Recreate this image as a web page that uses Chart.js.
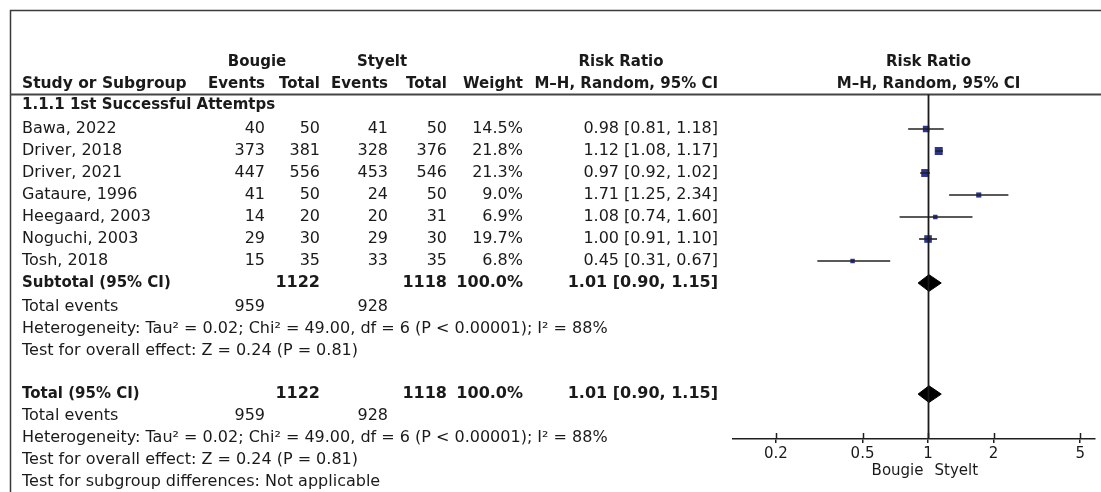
<!DOCTYPE html>
<html>
<head>
<meta charset="utf-8">
<script src="https://cdn.jsdelivr.net/npm/chart.js@4.4.1/dist/chart.umd.min.js"></script>
<style>
  html, body { margin: 0; padding: 0; background: #ffffff; }
  #wrap { position: relative; width: 1101px; height: 492px; }
</style>
</head>
<body>
<div id="wrap"><canvas id="c" width="1101" height="492"></canvas></div>
<script>
// ---------------- data ----------------
const studies = ['Bawa, 2022', 'Driver, 2018', 'Driver, 2021', 'Gataure, 1996', 'Heegaard, 2003', 'Noguchi, 2003', 'Tosh, 2018'];
const bougieEvents = [40, 373, 447, 41, 14, 29, 15];
const bougieTotal = [50, 381, 556, 50, 20, 30, 35];
const styeltEvents = [41, 328, 453, 24, 20, 29, 33];
const styeltTotal = [50, 376, 546, 50, 31, 30, 35];
const weights = [14.5, 21.8, 21.3, 9.0, 6.9, 19.7, 6.8];
const riskRatio = [0.98, 1.12, 0.97, 1.71, 1.08, 1.00, 0.45];
const ciLow = [0.81, 1.08, 0.92, 1.25, 0.74, 0.91, 0.31];
const ciHigh = [1.18, 1.17, 1.02, 2.34, 1.60, 1.10, 0.67];

const pooledLabels = ['Subtotal (95% CI)', 'Total (95% CI)'];
const pooledBougieTotal = [1122, 1122];
const pooledStyeltTotal = [1118, 1118];
const pooledWeight = [100.0, 100.0];
const pooledRR = [1.01, 1.01];
const pooledLow = [0.90, 0.90];
const pooledHigh = [1.15, 1.15];
const totalEventsBougie = [959, 959];
const totalEventsStyelt = [928, 928];

const subgroupTitle = '1.1.1 1st Successful Attemtps';
const heterogeneityText = 'Heterogeneity: Tau\u00B2 = 0.02; Chi\u00B2 = 49.00, df = 6 (P < 0.00001); I\u00B2 = 88%';
const overallEffectText = 'Test for overall effect: Z = 0.24 (P = 0.81)';
const subgroupDiffText = 'Test for subgroup differences: Not applicable';

const tickValues = [0.2, 0.5, 1, 2, 5];
const tickLabels = ['0.2', '0.5', '1', '2', '5'];
const favoursLeft = 'Bougie';
const favoursRight = 'Styelt';

// ---------------- layout (row units) ----------------
const studyRows = studies.map((_, i) => i);
const pooledRows = [7, 12.05];
const totalEventsRows = [8.1, 13.05];
const heteroRows = [9.1, 14.05];
const overallRows = [10.1, 15.05];
const subgroupDiffRow = 16.05;
const subgroupTitleRow = -1.08;
const headerRow1 = -3.05;
const headerRow2 = -2.05;
const headerLineRow = -1.59;

const col = { name: 22, bE: 265, bT: 320, sE: 388, sT: 447, w: 523, rr: 718 };
const SQUARE = '#2b3491';
const INK = '#1a1a1a';
const FONT = "'DejaVu Sans', sans-serif";

const fmt2 = v => v.toFixed(2);
const rrText = (r, l, h) => fmt2(r) + ' [' + fmt2(l) + ', ' + fmt2(h) + ']';

// ---------------- datasets ----------------
const datasets = [];
studies.forEach((s, i) => {
  datasets.push({
    type: 'line',
    data: [{ x: ciLow[i], y: studyRows[i] }, { x: ciHigh[i], y: studyRows[i] }],
    borderColor: '#222', borderWidth: 1.6, pointRadius: 0, fill: false
  });
});
datasets.push({
  type: 'scatter',
  data: riskRatio.map((v, i) => ({ x: v, y: studyRows[i] })),
  pointStyle: 'rect',
  pointRadius: weights.map(w => (8 * Math.sqrt(w / 21.8)) / 1.4142),
  backgroundColor: SQUARE, borderColor: SQUARE, borderWidth: 0
});
pooledRR.forEach((v, i) => {
  const r = pooledRows[i];
  datasets.push({
    type: 'line',
    data: [
      { x: pooledLow[i], y: r }, { x: v, y: r - 0.38 },
      { x: pooledHigh[i], y: r }, { x: v, y: r + 0.38 }, { x: pooledLow[i], y: r }
    ],
    borderColor: '#000', backgroundColor: '#000', borderWidth: 1,
    pointRadius: 0, fill: 'shape', tension: 0
  });
});

// ---------------- text / frame plugin ----------------
const forestPlugin = {
  id: 'forestText',
  afterDraw(chart) {
    const ctx = chart.ctx;
    const ys = chart.scales.y, xs = chart.scales.x;
    const Y = r => ys.getPixelForValue(r);
    ctx.save();
    // frame
    ctx.strokeStyle = '#3a3a3a'; ctx.lineWidth = 1.5;
    ctx.beginPath(); ctx.moveTo(10.5, 492); ctx.lineTo(10.5, 10.5); ctx.lineTo(1101, 10.5); ctx.stroke();
    // header rule
    ctx.strokeStyle = '#444'; ctx.lineWidth = 2;
    const hy = Math.round(Y(headerLineRow)) + 0.5;
    ctx.beginPath(); ctx.moveTo(10, hy); ctx.lineTo(1101, hy); ctx.stroke();
    // line of no effect
    const x1 = Math.round(xs.getPixelForValue(1)) + 0.5;
    ctx.strokeStyle = '#1a1a1a'; ctx.lineWidth = 1.8;
    ctx.beginPath(); ctx.moveTo(x1, hy); ctx.lineTo(x1, xs.top); ctx.stroke();
    // upper part of axis ticks
    ctx.lineWidth = 1.5; ctx.strokeStyle = '#1e1e1e';
    tickValues.forEach(v => {
      const px = Math.round(xs.getPixelForValue(v)) + 0.5;
      ctx.beginPath(); ctx.moveTo(px, xs.top - 6); ctx.lineTo(px, xs.top); ctx.stroke();
    });

    ctx.fillStyle = INK; ctx.textBaseline = 'middle';
    const T = (txt, x, y, align, bold, size) => {
      ctx.font = (bold ? 'bold ' : '') + (size || (bold ? 15 : 16)) + 'px ' + FONT;
      ctx.textAlign = align || 'left';
      ctx.fillText(txt, x, y);
    };
    // headers
    T('Bougie', 257, Y(headerRow1), 'center', true);
    T('Styelt', 382, Y(headerRow1), 'center', true);
    T('Risk Ratio', 621, Y(headerRow1), 'center', true);
    T('Risk Ratio', x1, Y(headerRow1), 'center', true);
    T('Study or Subgroup', col.name, Y(headerRow2), 'left', true, 15.5);
    T('Events', col.bE, Y(headerRow2), 'right', true);
    T('Total', col.bT, Y(headerRow2), 'right', true);
    T('Events', col.sE, Y(headerRow2), 'right', true);
    T('Total', col.sT, Y(headerRow2), 'right', true);
    T('Weight', col.w, Y(headerRow2), 'right', true);
    T('M\u2013H, Random, 95% CI', col.rr, Y(headerRow2), 'right', true);
    T('M\u2013H, Random, 95% CI', x1, Y(headerRow2), 'center', true);
    T(subgroupTitle, col.name, Y(subgroupTitleRow), 'left', true);
    // studies
    studies.forEach((s, i) => {
      const y = Y(studyRows[i]);
      T(s, col.name, y, 'left', false);
      T(String(bougieEvents[i]), col.bE, y, 'right', false);
      T(String(bougieTotal[i]), col.bT, y, 'right', false);
      T(String(styeltEvents[i]), col.sE, y, 'right', false);
      T(String(styeltTotal[i]), col.sT, y, 'right', false);
      T(weights[i].toFixed(1) + '%', col.w, y, 'right', false);
      T(rrText(riskRatio[i], ciLow[i], ciHigh[i]), col.rr, y, 'right', false);
    });
    // pooled blocks
    pooledLabels.forEach((lab, i) => {
      const y = Y(pooledRows[i]);
      T(lab, col.name, y, 'left', true);
      T(String(pooledBougieTotal[i]), col.bT, y, 'right', true, 16);
      T(String(pooledStyeltTotal[i]), col.sT, y, 'right', true, 16);
      T(pooledWeight[i].toFixed(1) + '%', col.w, y, 'right', true, 16);
      T(rrText(pooledRR[i], pooledLow[i], pooledHigh[i]), col.rr, y, 'right', true, 16);
      const ty = Y(totalEventsRows[i]);
      T('Total events', col.name, ty, 'left', false);
      T(String(totalEventsBougie[i]), col.bE, ty, 'right', false);
      T(String(totalEventsStyelt[i]), col.sE, ty, 'right', false);
      T(heterogeneityText, col.name, Y(heteroRows[i]), 'left', false);
      T(overallEffectText, col.name, Y(overallRows[i]), 'left', false);
    });
    T(subgroupDiffText, col.name, Y(subgroupDiffRow), 'left', false);
    // favours labels
    const fy = xs.bottom - 21;
    T(favoursLeft, x1 - 5, fy, 'right', false, 15);
    T(favoursRight, x1 + 6, fy, 'left', false, 15);
    ctx.restore();
  }
};

// ---------------- chart ----------------
new Chart(document.getElementById('c'), {
  type: 'scatter',
  data: { datasets },
  options: {
    responsive: false,
    animation: false,
    devicePixelRatio: 1,
    layout: { padding: { left: 733, right: 6, top: 10, bottom: 0 } },
    plugins: { legend: { display: false }, tooltip: { enabled: false } },
    scales: {
      x: {
        type: 'logarithmic',
        position: 'bottom',
        min: 0.127,
        max: 5.85,
        afterBuildTicks: s => { s.ticks = tickValues.map(v => ({ value: v })); },
        afterFit: s => { s.height = 53; },
        ticks: {
          autoSkip: false, maxRotation: 0, padding: 2,
          color: INK, font: { family: FONT, size: 15 },
          callback: v => { const k = tickValues.indexOf(v); return k >= 0 ? tickLabels[k] : ''; }
        },
        grid: { display: true, drawOnChartArea: false, drawTicks: true, tickLength: 4, color: '#1e1e1e', lineWidth: 1.5 },
        border: { display: true, color: '#1e1e1e', width: 1.5 }
      },
      y: {
        type: 'linear', display: false, reverse: true,
        min: -5.409, max: 14.09
      }
    }
  },
  plugins: [forestPlugin]
});
</script>
</body>
</html>
